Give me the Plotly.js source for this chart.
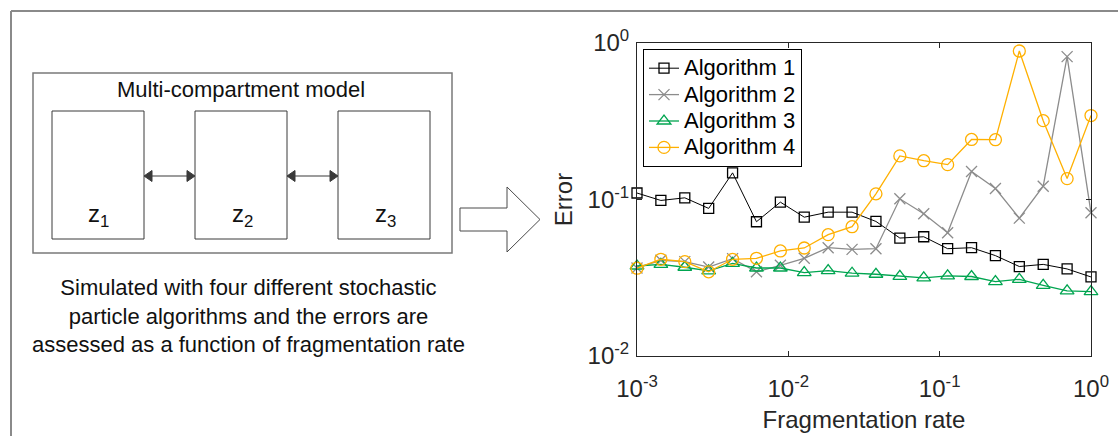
<!DOCTYPE html>
<html>
<head>
<meta charset="utf-8">
<script src="https://cdn.plot.ly/plotly-3.0.1.min.js"></script>
<style>
  html, body { margin: 0; padding: 0; background: #ffffff; }
  #chart { width: 1118px; height: 436px; }
</style>
</head>
<body>
<div id="chart"></div>
<script>
// ---------------- data ----------------
const fragmentationRate = [0.001, 0.001438, 0.002069, 0.002976, 0.004281, 0.006158, 0.008859,
  0.01274, 0.01833, 0.02637, 0.03793, 0.05456, 0.07848, 0.1129, 0.1624, 0.2336,
  0.3360, 0.4833, 0.6952, 1.0];

const algorithm1 = [0.110, 0.0986, 0.1025, 0.0877, 0.148, 0.0721, 0.0962, 0.0771, 0.083, 0.083,
  0.0724, 0.0567, 0.0578, 0.0485, 0.0492, 0.0438, 0.0373, 0.0385, 0.0360, 0.0320];
const algorithm2 = [0.0365, 0.0409, 0.0401, 0.0370, 0.0419, 0.0345, 0.0380, 0.0421, 0.0492, 0.0480,
  0.0485, 0.101, 0.081, 0.0613, 0.151, 0.1175, 0.076, 0.1216, 0.818, 0.0822];
const algorithm3 = [0.0376, 0.0385, 0.0369, 0.0350, 0.0391, 0.0365, 0.0365, 0.0341, 0.0351, 0.0338,
  0.0333, 0.0323, 0.0316, 0.0325, 0.0322, 0.0299, 0.0309, 0.0283, 0.0261, 0.0258];
const algorithm4 = [0.0364, 0.0415, 0.0401, 0.0345, 0.0415, 0.0421, 0.0469, 0.0490, 0.0596, 0.0670,
  0.1087, 0.190, 0.177, 0.167, 0.242, 0.241, 0.889, 0.319, 0.136, 0.344];

const seriesNames = ['Algorithm 1', 'Algorithm 2', 'Algorithm 3', 'Algorithm 4'];
const xTickVals = [0.001, 0.01, 0.1, 1];
const xTickText = ['10<sup>-3</sup>', '10<sup>-2</sup>', '10<sup>-1</sup>', '10<sup>0</sup>'];
const yTickVals = [0.01, 0.1, 1];
const yTickText = ['10<sup>-2</sup>', '10<sup>-1</sup>', '10<sup>0</sup>'];

const diagramTitle = 'Multi-compartment model';
const compartmentLabels = ['z<sub>1</sub>', 'z<sub>2</sub>', 'z<sub>3</sub>'];
const captionLines = ['Simulated with four different stochastic',
  'particle algorithms and the errors are',
  'assessed as a function of fragmentation rate'];

// ---------------- layout helpers ----------------
const FIG_W = 1118, FIG_H = 436;
const L = 637, R = 1091, T = 43, B = 356;
const PW = R - L, PH = B - T;
const px = x => (x - L) / PW;
const py = y => (B - y) / PH;
const FONT = 'Liberation Sans, Arial, Helvetica, sans-serif';
const AXC = '#262626';

function rectShape(x0, y0, x1, y1, color, width) {
  return { type: 'rect', xref: 'paper', yref: 'paper', x0: px(x0), x1: px(x1), y0: py(y1), y1: py(y0),
    line: { color: color, width: width }, fillcolor: 'rgba(0,0,0,0)' };
}
function lineShape(x0, y0, x1, y1, color, width) {
  return { type: 'line', xref: 'paper', yref: 'paper', x0: px(x0), x1: px(x1), y0: py(y0), y1: py(y1),
    line: { color: color, width: width } };
}
function pathShape(points, color, fill, width) {
  const d = points.map((p, i) => (i ? 'L' : 'M') + px(p[0]).toFixed(5) + ',' + py(p[1]).toFixed(5)).join(' ') + ' Z';
  return { type: 'path', xref: 'paper', yref: 'paper', path: d, line: { color: color, width: width }, fillcolor: fill };
}
function doubleArrow(xa, xb, y) {
  const c = '#3a3a3a', hl = 8, hh = 5.5;
  return [
    lineShape(xa + 4, y, xb - 4, y, c, 1.2),
    pathShape([[xa, y], [xa + hl, y - hh], [xa + hl, y + hh]], c, c, 1),
    pathShape([[xb, y], [xb - hl, y - hh], [xb - hl, y + hh]], c, c, 1)
  ];
}

const shapes = [
  // outer frame (top and left edges)
  lineShape(11, 11, FIG_W, 11, '#8a8a8a', 2),
  lineShape(11, 11, 11, FIG_H, '#8a8a8a', 2),
  // model box and compartments
  rectShape(33, 73, 452, 253, '#7a7a7a', 1.5),
  rectShape(52, 111, 144, 239, '#3a3a3a', 1),
  rectShape(195, 111, 287, 239, '#3a3a3a', 1),
  rectShape(338, 111, 430, 239, '#3a3a3a', 1),
  ...doubleArrow(144, 195, 176),
  ...doubleArrow(287, 338, 176),
  // big hollow arrow
  pathShape([[460, 208], [507, 208], [507, 187], [540, 219.5], [507, 252], [507, 231], [460, 231]], '#4a4a4a', '#ffffff', 1)
];

const annotations = [
  { text: diagramTitle, x: px(241), y: py(89) },
  { text: compartmentLabels[0], x: px(98), y: py(215), size: 24 },
  { text: compartmentLabels[1], x: px(242), y: py(215), size: 24 },
  { text: compartmentLabels[2], x: px(385), y: py(215), size: 24 },
  { text: captionLines.join('<br>'), x: px(248), y: py(316) }
].map(a => ({
  text: a.text, x: a.x, y: a.y, xref: 'paper', yref: 'paper', showarrow: false,
  xanchor: 'center', yanchor: 'middle', align: 'center',
  font: { family: FONT, size: a.size || 22, color: '#111111' }
}));

// ---------------- traces ----------------
const styles = [
  { color: '#000000', symbol: 'square-open', size: 10, width: 1 },
  { color: '#8c8c8c', symbol: 'x-thin-open', size: 11, width: 1.3 },
  { color: '#00a550', symbol: 'triangle-up-open', size: 12, width: 1.3 },
  { color: '#ffb000', symbol: 'circle-open', size: 12, width: 1.3 }
];
const ys = [algorithm1, algorithm2, algorithm3, algorithm4];
const traces = ys.map((y, i) => ({
  type: 'scatter', mode: 'lines+markers',
  name: '<span style="font-size:22px">' + seriesNames[i] + '</span>',
  x: fragmentationRate, y: y,
  line: { color: styles[i].color, width: styles[i].width },
  marker: { symbol: styles[i].symbol, size: styles[i].size, color: styles[i].color,
    line: { color: styles[i].color, width: 1.3 } },
  cliponaxis: false
}));

const layout = {
  width: FIG_W, height: FIG_H,
  margin: { l: L, r: FIG_W - R, t: T, b: FIG_H - B, pad: 0 },
  paper_bgcolor: '#ffffff', plot_bgcolor: '#ffffff',
  font: { family: FONT, color: AXC },
  showlegend: true,
  legend: {
    x: px(643), y: py(49), xanchor: 'left', yanchor: 'top',
    bgcolor: '#ffffff', bordercolor: '#000000', borderwidth: 1,
    font: { family: FONT, size: 18, color: '#000000' },
    itemwidth: 30, tracegroupgap: 0
  },
  xaxis: {
    type: 'log', range: [-3, 0], showgrid: false, zeroline: false,
    showline: true, linecolor: AXC, linewidth: 1, mirror: 'ticks',
    ticks: 'inside', ticklen: 5, tickcolor: AXC,
    tickvals: xTickVals, ticktext: xTickText,
    tickfont: { family: FONT, size: 24, color: AXC },
    ticklabelstandoff: 11,
    title: { text: 'Fragmentation rate', font: { family: FONT, size: 24, color: AXC }, standoff: 10 },
    automargin: false
  },
  yaxis: {
    type: 'log', range: [-2, 0], showgrid: false, zeroline: false,
    showline: true, linecolor: AXC, linewidth: 1, mirror: 'ticks',
    ticks: 'inside', ticklen: 5, tickcolor: AXC,
    tickvals: yTickVals, ticktext: yTickText,
    tickfont: { family: FONT, size: 24, color: AXC },
    ticklabelstandoff: 2,
    title: { text: 'Error', font: { family: FONT, size: 24, color: AXC }, standoff: 8 },
    automargin: false
  },
  shapes: shapes,
  annotations: annotations
};

Plotly.newPlot('chart', traces, layout, { staticPlot: true, displayModeBar: false });
</script>
</body>
</html>
